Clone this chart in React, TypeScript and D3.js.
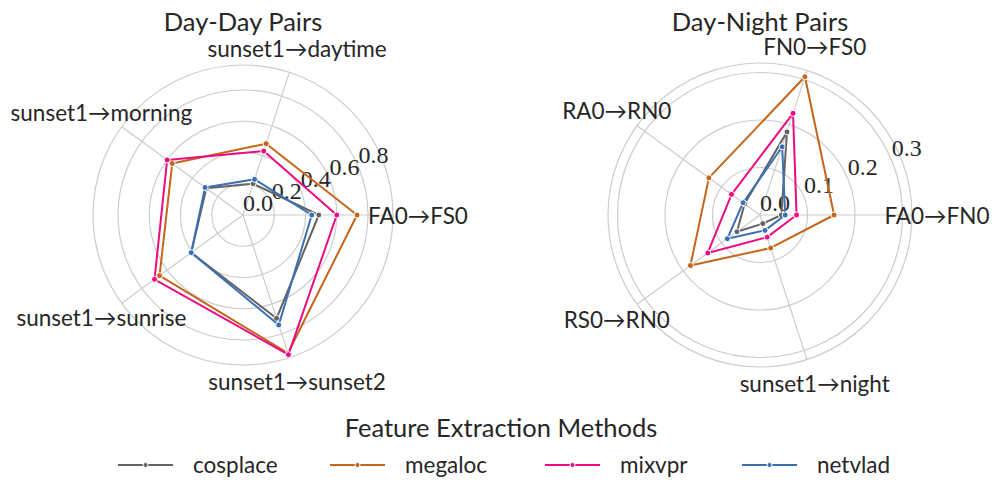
import React from "react";
import * as d3 from "d3";

const methods = ["cosplace", "megaloc", "mixvpr", "netvlad"];
const methodColors = ["#636363", "#c5651b", "#ec0c80", "#3a6fb3"];

const dayDayCategories = ["FA0→FS0", "sunset1→daytime", "sunset1→morning", "sunset1→sunrise", "sunset1→sunset2"];
const dayDayCosplace = [0.485, 0.21, 0.29, 0.41, 0.695];
const dayDayMegaloc = [0.73, 0.48, 0.56, 0.66, 0.93];
const dayDayMixvpr = [0.6, 0.43, 0.6, 0.7, 0.94];
const dayDayNetvlad = [0.44, 0.24, 0.3, 0.41, 0.74];
const dayDayTicks = [0.0, 0.2, 0.4, 0.6, 0.8];

const dayNightCategories = ["FA0→FN0", "FN0→FS0", "RA0→RN0", "RS0→RN0", "sunset1→night"];
const dayNightCosplace = [0.045, 0.184, 0.04, 0.06, 0.019];
const dayNightMegaloc = [0.156, 0.306, 0.133, 0.181, 0.073];
const dayNightMixvpr = [0.077, 0.225, 0.074, 0.136, 0.049];
const dayNightNetvlad = [0.053, 0.151, 0.044, 0.085, 0.034];
const dayNightTicks = [0.0, 0.1, 0.2, 0.3];

const SANS = "Lato, 'DejaVu Sans', sans-serif";
const SERIF = "'Liberation Serif', 'DejaVu Serif', serif";
const TEXT = "#262626";
const GRID = "#cccccc";

type RadarProps = {
  cx: number;
  cy: number;
  title: string;
  categories: string[];
  series: number[][];
  ticks: number[];
  rMax: number;
  radius: number;
};

function Radar({ cx, cy, title, categories, series, ticks, rMax, radius }: RadarProps) {
  const r = d3.scaleLinear().domain([0, rMax]).range([0, radius]);
  const n = categories.length;
  const ang = d3.scaleLinear().domain([0, n]).range([0, 2 * Math.PI]);
  const px = (i: number, v: number) => cx + r(v) * Math.cos(ang(i));
  const py = (i: number, v: number) => cy - r(v) * Math.sin(ang(i));
  const line = d3
    .line<[number, number]>()
    .x((d) => d[0])
    .y((d) => d[1])
    .curve(d3.curveLinearClosed);
  const labelAngle = (22.5 * Math.PI) / 180;
  return (
    <g>
      <text x={cx} y={31} textAnchor="middle" fontFamily={SANS} fontSize={25.5} fill={TEXT}>
        {title}
      </text>
      {ticks.filter((t) => t > 0).map((t) => (
        <circle key={"g" + t} cx={cx} cy={cy} r={r(t)} fill="none" stroke={GRID} strokeWidth={1.2} />
      ))}
      <circle cx={cx} cy={cy} r={radius} fill="none" stroke={GRID} strokeWidth={1.2} />
      {categories.map((c, i) => (
        <line key={"s" + i} x1={cx} y1={cy} x2={px(i, rMax)} y2={py(i, rMax)} stroke={GRID} strokeWidth={1.2} />
      ))}
      {ticks.map((t) => (
        <text
          key={"t" + t}
          x={cx + r(t) * Math.cos(labelAngle)}
          y={cy - r(t) * Math.sin(labelAngle) - 4}
          fontFamily={SERIF}
          fontSize={24}
          fill={TEXT}
        >
          {t.toFixed(1)}
        </text>
      ))}
      {categories.map((c, i) => {
        const lr = radius + 25;
        return (
          <text
            key={"c" + i}
            x={cx + lr * Math.cos(ang(i))}
            y={cy - lr * Math.sin(ang(i))}
            textAnchor="middle"
            dominantBaseline="central"
            fontFamily={SANS}
            fontSize={22.5}
            fill={TEXT}
          >
            {c}
          </text>
        );
      })}
      {series.map((vals, s) => {
        const pts: [number, number][] = vals.map((v, i) => [px(i, v), py(i, v)]);
        return (
          <g key={"p" + s}>
            <path d={line(pts) || ""} fill="none" stroke={methodColors[s]} strokeWidth={2} strokeLinejoin="round" />
            {pts.map((p, i) => (
              <circle key={i} cx={p[0]} cy={p[1]} r={3} fill={methodColors[s]} stroke="#ffffff" strokeWidth={1} />
            ))}
          </g>
        );
      })}
    </g>
  );
}

const legendX = [118, 330, 545, 742];

export default function App() {
  return (
    <svg
      width={997}
      height={498}
      style={{ position: "absolute", left: 0, top: 0, background: "#ffffff" }}
    >
      <rect width={997} height={498} fill="#ffffff" />
      <Radar
        cx={243}
        cy={215}
        title="Day-Day Pairs"
        categories={dayDayCategories}
        series={[dayDayCosplace, dayDayMegaloc, dayDayMixvpr, dayDayNetvlad]}
        ticks={dayDayTicks}
        rMax={0.96}
        radius={150}
      />
      <Radar
        cx={760}
        cy={215}
        title="Day-Night Pairs"
        categories={dayNightCategories}
        series={[dayNightCosplace, dayNightMegaloc, dayNightMixvpr, dayNightNetvlad]}
        ticks={dayNightTicks}
        rMax={0.32}
        radius={152}
      />
      <text x={501} y={437} textAnchor="middle" fontFamily={SANS} fontSize={25.5} fill={TEXT}>
        Feature Extraction Methods
      </text>
      {methods.map((m, i) => (
        <g key={m}>
          <line x1={legendX[i]} x2={legendX[i] + 55} y1={465} y2={465} stroke={methodColors[i]} strokeWidth={2} />
          <circle cx={legendX[i] + 27.5} cy={465} r={2.5} fill={methodColors[i]} stroke="#ffffff" strokeWidth={1} />
          <text x={legendX[i] + 75} y={473} fontFamily={SANS} fontSize={22.5} fill={TEXT}>
            {m}
          </text>
        </g>
      ))}
    </svg>
  );
}
